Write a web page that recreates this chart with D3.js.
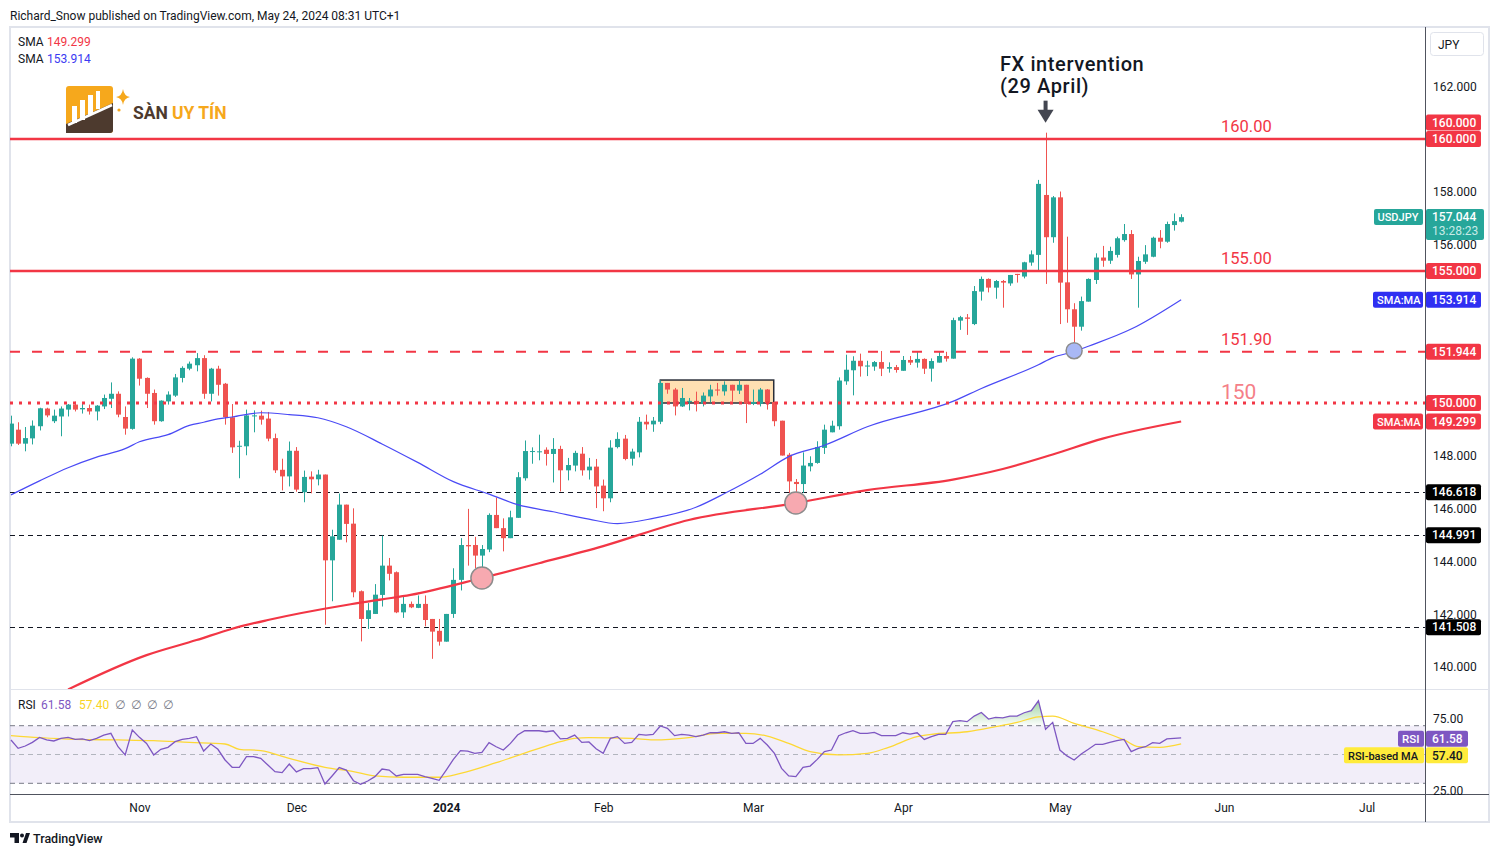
<!DOCTYPE html>
<html><head><meta charset="utf-8">
<script src="https://cdn.jsdelivr.net/npm/d3@7"></script>
<style>html,body{margin:0;padding:0;background:#fff;}svg{display:block;font-family:Roboto,"Noto Sans","DejaVu Sans",sans-serif;}</style>
</head><body><svg id="c" width="1499" height="857"></svg>
<script>
// ---- DATA (daily USD/JPY candles, Oct 6 2023 -> May 24 2024) ----
const open=[
148.46,148.99,148.46,148.66,149.12,149.79,149.31,149.49,149.75,149.94,
149.76,149.81,149.68,149.87,150.16,150.35,149.47,149.02,151.68,150.95,
150.38,149.31,150.06,150.28,150.95,151.30,151.43,151.70,150.35,151.30,
150.73,149.46,148.36,148.36,149.50,149.52,149.41,148.67,147.47,147.22,
148.19,146.62,147.21,147.11,147.29,144.04,144.82,146.15,145.43,142.87,
141.82,142.01,142.73,143.84,143.59,142.07,142.39,142.24,142.39,141.82,
141.37,140.96,142.01,143.30,144.62,144.62,144.22,144.45,145.76,145.26,
144.88,145.65,147.15,148.15,148.15,148.23,148.07,148.26,147.45,147.63,
148.08,147.45,147.59,146.87,146.39,148.33,148.65,147.89,148.13,149.29,
149.19,149.29,150.76,150.51,149.87,150.04,150.08,149.97,150.25,150.51,
150.44,150.69,150.47,150.69,149.97,149.97,150.51,150.04,149.33,148.04,
147.01,146.93,147.60,147.73,148.30,148.89,149.12,150.82,151.24,151.60,
151.38,151.38,151.55,151.30,151.36,151.22,151.63,151.53,151.67,151.30,
151.53,151.78,151.68,153.12,153.24,152.99,154.22,154.70,154.37,154.62,
154.53,154.89,154.79,155.32,155.61,157.88,156.28,157.79,154.57,153.55,
152.89,153.84,154.66,155.51,155.39,155.61,156.17,156.40,154.87,155.35,
155.54,156.26,156.11,156.74,156.87];
const high=[
149.52,149.27,149.09,149.34,149.82,149.82,149.75,149.87,149.96,150.05,
149.97,149.94,149.92,150.32,150.78,150.44,149.87,151.73,151.70,150.97,
150.51,150.10,150.44,151.10,151.39,151.57,151.89,151.81,151.33,151.41,
150.76,149.96,148.57,149.75,149.72,149.71,149.66,148.84,147.89,148.54,
148.33,147.44,147.41,147.47,147.29,145.20,146.57,146.15,146.01,142.90,
142.42,143.14,144.98,144.13,143.62,142.71,142.48,142.71,142.71,141.82,
141.82,142.01,143.74,144.88,145.99,144.93,144.62,145.82,146.42,145.63,
145.92,147.38,148.58,148.32,148.80,148.32,148.67,148.38,147.92,148.19,
148.33,147.92,147.88,147.10,148.59,148.89,148.79,148.27,149.47,149.56,
149.47,150.86,150.76,150.57,150.57,150.19,150.43,150.40,150.69,150.76,
150.82,150.69,150.86,150.69,150.51,150.57,150.53,150.06,149.33,148.11,
147.12,148.13,147.98,148.55,149.18,149.33,150.97,151.83,151.77,151.87,
151.60,151.59,151.97,151.54,151.44,151.78,151.78,151.94,151.69,151.69,
151.94,151.94,153.23,153.30,153.37,154.43,154.79,154.72,154.66,154.66,
154.85,154.89,155.35,155.78,158.45,160.24,157.84,158.01,156.30,153.78,
154.03,154.72,155.67,155.95,155.92,156.30,156.78,156.55,155.54,155.98,
156.30,156.55,156.87,157.18,157.15];
const low=[
148.36,148.41,148.17,148.43,148.96,149.46,149.24,148.74,149.49,149.68,
149.60,149.56,149.34,149.77,149.81,149.46,148.80,148.99,150.66,149.81,
149.18,149.29,149.94,150.23,150.78,151.24,151.20,150.16,150.06,150.28,
149.18,148.11,147.15,148.02,148.89,149.18,148.55,147.35,146.69,146.84,
146.64,146.24,146.58,146.88,141.60,142.49,144.82,144.72,142.64,140.97,
141.44,142.01,142.29,143.28,142.04,141.86,142.23,142.23,141.54,140.31,
140.81,140.96,141.86,142.90,143.84,143.74,143.46,144.35,145.26,144.38,
144.88,145.65,147.06,147.70,147.83,147.63,146.99,146.65,147.07,147.41,
147.25,147.10,146.02,145.90,146.24,148.28,147.83,147.63,147.94,148.99,
148.91,149.20,150.35,149.53,149.85,149.72,149.68,149.87,150.03,150.28,
150.28,150.06,150.34,149.24,149.92,149.87,149.75,149.12,148.01,146.59,
146.53,146.59,147.41,147.70,148.07,148.89,148.99,150.69,150.29,151.00,
151.02,151.22,151.02,151.15,151.15,151.22,151.44,151.34,151.10,150.81,
151.53,151.57,151.68,152.77,152.58,152.95,153.88,154.19,153.95,153.61,
154.44,154.56,154.72,155.20,154.97,154.51,156.07,152.99,153.04,151.92,
152.74,153.84,154.51,155.16,155.27,155.51,156.11,154.70,153.61,155.27,
155.52,155.86,156.07,156.53,156.84];
const close=[
149.22,148.46,148.67,149.14,149.80,149.53,149.52,149.79,149.94,149.75,
149.81,149.68,149.90,150.19,150.35,149.56,149.03,151.68,150.92,150.35,
149.31,150.09,150.32,150.97,151.33,151.49,151.70,150.35,151.30,150.69,
149.46,148.32,148.38,149.53,149.53,149.37,148.65,147.45,147.22,148.19,
146.72,147.20,147.11,147.29,144.04,144.95,146.15,145.42,142.83,141.82,
142.15,142.74,143.84,143.53,142.07,142.39,142.26,142.39,141.78,141.34,
140.96,142.01,143.30,144.62,144.57,144.22,144.47,145.76,145.26,144.88,
145.67,147.19,148.18,148.18,148.17,148.07,148.26,147.45,147.65,148.11,
147.45,147.59,146.84,146.39,148.31,148.64,147.88,148.16,149.29,149.19,
149.33,150.76,150.51,149.87,150.19,150.08,149.96,150.28,150.51,150.47,
150.69,150.47,150.69,149.97,150.04,150.51,150.00,149.31,148.01,147.03,
146.93,147.63,147.73,148.33,148.99,149.14,150.85,151.26,151.60,151.39,
151.42,151.55,151.30,151.36,151.25,151.63,151.53,151.67,151.30,151.59,
151.78,151.68,153.14,153.25,153.19,154.24,154.70,154.37,154.62,154.56,
154.85,154.85,155.33,155.63,158.30,156.28,157.79,154.56,153.55,152.89,
153.86,154.70,155.51,155.39,155.76,156.24,156.40,154.87,155.38,155.63,
156.26,156.11,156.78,156.89,157.04];

// RSI(14) per candle
const rsi=[
60.1,54.3,55.9,58.4,61.9,60.1,59.4,61.2,61.9,60.5,
60.8,59.6,61.2,63.5,64.7,55.4,49.7,67.0,61.9,57.7,
49.7,53.6,55.0,58.9,60.5,61.2,62.4,52.4,57.3,53.6,
46.2,41.1,41.1,48.5,48.5,47.3,42.7,38.1,37.4,43.4,
37.9,40.2,40.2,40.9,29.5,35.1,40.9,39.2,31.8,29.3,
31.6,34.6,39.9,39.2,35.1,36.2,36.2,36.2,34.6,33.5,
32.1,39.2,46.6,52.7,52.4,50.8,51.5,58.2,55.4,53.1,
57.7,63.5,66.5,66.5,66.5,65.8,66.5,60.8,61.2,63.5,
58.4,58.7,54.0,50.8,61.2,62.4,57.7,58.4,64.0,63.5,
64.0,69.8,68.2,63.1,64.0,63.5,62.4,63.5,65.1,65.1,
65.8,64.7,65.1,57.7,57.7,61.2,56.6,50.8,40.4,35.1,
34.6,41.1,42.0,46.6,52.0,53.1,63.1,65.1,66.5,64.7,
64.7,65.4,63.1,63.1,63.1,65.1,64.2,65.1,60.5,62.4,
64.0,64.0,72.8,73.5,72.8,76.7,79.2,74.6,75.8,75.5,
76.7,76.7,79.0,80.4,87.3,67.5,72.3,53.1,49.0,46.2,
50.3,53.6,57.1,57.1,58.4,59.6,60.5,52.0,54.3,55.4,
58.2,57.7,60.8,61.2,61.58];

// RSI-based MA read at candle indices
const rsiMaIdx=[0,4,9,15,20,25,30,32,35,39,44,48,51,55,60,63,68,74,77,79,81,87,90,95,99,103,106,109,112,116,120,123,127,129,134,138,141,144,146,149,153,156,158,161,164];
const rsiMaVal=[63.1,61.7,60.5,60.1,59.6,58.4,57.3,53.6,52.7,47.3,41.1,38.1,35.1,34.2,34.2,36.9,44.3,54.3,58.9,61.2,61.7,61.2,60.1,61.7,64.7,64.7,62.8,57.7,52.0,49.7,50.8,55.0,62.4,64.0,65.8,69.3,72.3,76.2,76.7,71.6,65.8,60.1,55.4,55.0,57.4];

// SMA lines read at candle indices
const sma50Idx=[0,4,8,12,16,18,22,25,27,29,31,35,39,43,47,52,57,62,67,71,76,81,85,90,96,100,105,109,114,120,132,136,144,146,149,151,157,164];
const sma50Val=[146.52,147.05,147.55,147.95,148.27,148.53,148.80,149.15,149.27,149.40,149.47,149.63,149.56,149.44,149.10,148.45,147.75,147.02,146.55,146.15,145.88,145.60,145.43,145.63,146.05,146.57,147.30,147.97,148.40,149.10,150.06,150.55,151.45,151.72,151.95,152.15,152.80,153.914];
const sma200Idx=[8,19,26,31,36,47,52,56,66,74,83,95,110,120,132,139,146,153,164];
const sma200Val=[139.15,140.45,141.02,141.45,141.78,142.35,142.56,142.73,143.37,143.93,144.58,145.57,146.21,146.70,147.10,147.50,148.05,148.65,149.299];

const monthTickIdx=[18,40,61,83,104,125,147,170,190];
const monthTickLabels=["Nov","Dec","2024","Feb","Mar","Apr","May","Jun","Jul"];
const priceTicks=[140,142,144,146,148,156,158,162];
const rsiTicks=[25,75];
const redLevels=[160,155,151.944,150];
const redLevelText=["160.00","155.00","151.90","150"];
const blackLevels=[146.618,144.991,141.508];
const lastPrice=157.044, lastSma50=153.914, lastSma200=149.299, lastRsi=61.58, lastRsiMa=57.40;
const markIdx=[66,110,149];
const markVal=[143.37,146.21,151.98];
const boxIdx=[91,106.9], boxVal=[150.0,150.87];
const fxIdx=145, fxVal=160.24;

// ---- DRAW ----
const RED="#f23645", GREEN="#26a69a", CRED="#ef5350", BLUE="#3b3bf2", TXT="#131722";
const svg=d3.select("#c");
svg.append("rect").attr("width",1499).attr("height",857).attr("fill","#fff");
const PL=10, PR=1425, MT=28, MB=689, RT=690, RB=794;
const x=d3.scaleLinear().domain([0,164]).range([11,11+164*7.135]);
const y=d3.scaleLinear().domain([140,160]).range([667,139]);
const yr=d3.scaleLinear().domain([30,70]).range([783.3,725.7]);

const defs=svg.append("defs");
defs.append("clipPath").attr("id","cm").append("rect").attr("x",PL).attr("y",MT).attr("width",PR-PL).attr("height",MB-MT);
defs.append("clipPath").attr("id","cr").append("rect").attr("x",PL).attr("y",RT).attr("width",PR-PL).attr("height",RB-RT);
const gU=defs.append("linearGradient").attr("id","gu").attr("gradientUnits","userSpaceOnUse").attr("x1",0).attr("x2",0).attr("y1",yr(88)).attr("y2",yr(70));
gU.append("stop").attr("offset",0).attr("stop-color","rgba(76,175,80,0.55)");
gU.append("stop").attr("offset",1).attr("stop-color","rgba(76,175,80,0.02)");
const gD=defs.append("linearGradient").attr("id","gd").attr("gradientUnits","userSpaceOnUse").attr("x1",0).attr("x2",0).attr("y1",yr(30)).attr("y2",yr(20));
gD.append("stop").attr("offset",0).attr("stop-color","rgba(255,82,82,0.05)");
gD.append("stop").attr("offset",1).attr("stop-color","rgba(255,82,82,0.5)");

// header
svg.append("text").attr("x",10).attr("y",19.5).attr("font-size",12).attr("fill",TXT)
  .text("Richard_Snow published on TradingView.com, May 24, 2024 08:31 UTC+1");

// frame
svg.append("rect").attr("x",10).attr("y",27).attr("width",1479).attr("height",795).attr("fill","none").attr("stroke","#e0e3eb").attr("stroke-width",2);
svg.append("line").attr("x1",10).attr("x2",1489).attr("y1",689.5).attr("y2",689.5).attr("stroke","#e0e3eb");
svg.append("line").attr("x1",10).attr("x2",1489).attr("y1",794.5).attr("y2",794.5).attr("stroke","#50535e");
svg.append("line").attr("x1",1425.5).attr("x2",1425.5).attr("y1",27).attr("y2",822).attr("stroke","#50535e");

const main=svg.append("g").attr("clip-path","url(#cm)");

// rectangle drawing
main.append("rect").attr("x",x(boxIdx[0])).attr("y",y(boxVal[1])).attr("width",x(boxIdx[1])-x(boxIdx[0]))
  .attr("height",y(boxVal[0])-y(boxVal[1])).attr("fill","#ffe0b2").attr("stroke","#2a2e39").attr("stroke-width",1.5);

// black dashed levels
main.selectAll("line.bl").data(blackLevels).join("line").attr("class","bl")
  .attr("x1",PL).attr("x2",PR).attr("y1",d=>Math.round(y(d))+0.5).attr("y2",d=>Math.round(y(d))+0.5)
  .attr("stroke",TXT).attr("stroke-width",1).attr("stroke-dasharray","5,4");

// candles
const cd=d3.range(open.length).map(i=>({i,o:open[i],h:high[i],l:low[i],c:close[i]}));
const cg=main.append("g");
cg.selectAll("line").data(cd).join("line")
  .attr("x1",d=>Math.round(x(d.i))+0.5).attr("x2",d=>Math.round(x(d.i))+0.5)
  .attr("y1",d=>y(d.h)).attr("y2",d=>y(d.l))
  .attr("stroke",d=>d.c>=d.o?GREEN:CRED).attr("stroke-width",1);
cg.selectAll("rect").data(cd).join("rect")
  .attr("x",d=>Math.round(x(d.i))-2).attr("width",5)
  .attr("y",d=>y(Math.max(d.o,d.c))).attr("height",d=>Math.max(1,Math.abs(y(d.o)-y(d.c))))
  .attr("fill",d=>d.c>=d.o?GREEN:CRED);

// SMA lines
const ln=d3.line().x(d=>x(d[0])).y(d=>y(d[1])).curve(d3.curveMonotoneX);
main.append("path").attr("d",ln(d3.zip(sma50Idx,sma50Val))).attr("fill","none").attr("stroke","#4a4af5").attr("stroke-width",1.2);
main.append("path").attr("d",ln(d3.zip(sma200Idx,sma200Val))).attr("fill","none").attr("stroke",RED).attr("stroke-width",2.2);

// red levels
const dashes=[null,null,"10,12","3,6"];
const widths=[2.5,2.5,2,3];
main.selectAll("line.rl").data(redLevels).join("line").attr("class","rl")
  .attr("x1",PL).attr("x2",PR).attr("y1",d=>y(d)).attr("y2",d=>y(d))
  .attr("stroke",RED).attr("stroke-width",(d,i)=>widths[i]).attr("stroke-dasharray",(d,i)=>dashes[i]);
main.selectAll("text.rt").data(redLevels).join("text").attr("class","rt")
  .attr("x",1221).attr("y",(d,i)=>y(d)-(i===3?4:7))
  .attr("font-size",(d,i)=>i===3?21:16.5).attr("fill",(d,i)=>i===3?"#f57f88":RED)
  .text((d,i)=>redLevelText[i]);

// circles
const mc=["#f7a9b0","#f7a9b0","#a9b8f5"], mr=[11,11,8];
main.selectAll("circle.mk").data(markIdx).join("circle").attr("class","mk")
  .attr("cx",d=>x(d)).attr("cy",(d,i)=>y(markVal[i])).attr("r",(d,i)=>mr[i])
  .attr("fill",(d,i)=>mc[i]).attr("stroke","#8c8c8c").attr("stroke-width",1.5);

// FX annotation
const ax=x(fxIdx), ay=y(fxVal);
svg.append("rect").attr("x",ax-2).attr("y",ay-32).attr("width",4).attr("height",14).attr("fill","#434651");
svg.append("path").attr("d",`M${ax-8},${ay-23}L${ax+8},${ay-23}L${ax},${ay-10}Z`).attr("fill","#434651");
svg.append("text").attr("x",1000).attr("y",70.5).attr("font-size",20).attr("letter-spacing",0.6).attr("font-weight",500).attr("fill",TXT).text("FX intervention");
svg.append("text").attr("x",1000).attr("y",92.5).attr("font-size",20).attr("letter-spacing",0.6).attr("font-weight",500).attr("fill",TXT).text("(29 April)");

// legend
const lg=svg.append("g").attr("font-size",12);
lg.append("text").attr("x",18).attr("y",46).attr("fill",TXT).text("SMA");
lg.append("text").attr("x",47).attr("y",46).attr("fill",RED).text(lastSma200.toFixed(3));
lg.append("text").attr("x",18).attr("y",63).attr("fill",TXT).text("SMA");
lg.append("text").attr("x",47).attr("y",63).attr("fill",BLUE).text(lastSma50.toFixed(3));

// logo
const lo=svg.append("g");
lo.append("rect").attr("x",66).attr("y",86).attr("width",47).attr("height",47).attr("rx",3).attr("fill","#f6a81c");
lo.append("path").attr("d","M66,133 L66,124 L113,103 L113,130 Q113,133 110,133 Z").attr("fill","#4d3a2e");
[[72,106,5,17],[80,100,5,20],[88,95,5,20],[96,91,4,18]].forEach(b=>lo.append("rect").attr("x",b[0]).attr("y",b[1]).attr("width",b[2]).attr("height",b[3]).attr("fill","#fff"));
lo.append("path").attr("d","M68,125 L112,105").attr("stroke","#fff").attr("stroke-width",2.5);
lo.append("path").attr("d","M123,89 Q124,96 130,97 Q124,98 123,105 Q122,98 116,97 Q122,96 123,89Z").attr("fill","#f6a81c");
lo.append("circle").attr("cx",119).attr("cy",110).attr("r",1.6).attr("fill","#f6a81c");
lo.append("text").attr("x",133).attr("y",119).attr("font-size",17.5).attr("font-weight","bold").attr("fill","#4d3a2e").text("SÀN");
lo.append("text").attr("x",172).attr("y",119).attr("font-size",17.5).attr("font-weight","bold").attr("fill","#f6a81c").text("UY TÍN");

// ---- RSI pane ----
const rp=svg.append("g").attr("clip-path","url(#cr)");
rp.append("rect").attr("x",PL).attr("width",PR-PL).attr("y",yr(70)).attr("height",yr(30)-yr(70)).attr("fill","rgba(126,87,194,0.1)");
[70,30].forEach(v=>rp.append("line").attr("x1",PL).attr("x2",PR).attr("y1",yr(v)).attr("y2",yr(v)).attr("stroke","#787b86").attr("stroke-dasharray","5,4"));
rp.append("line").attr("x1",PL).attr("x2",PR).attr("y1",yr(50)).attr("y2",yr(50)).attr("stroke","#b2b5be").attr("stroke-dasharray","5,4");
rp.append("path").attr("d",d3.area().x((d,i)=>x(i)).y0(yr(70)).y1(d=>yr(Math.max(d,70)))(rsi)).attr("fill","url(#gu)");
rp.append("path").attr("d",d3.area().x((d,i)=>x(i)).y0(yr(30)).y1(d=>yr(Math.min(d,30)))(rsi)).attr("fill","url(#gd)");
rp.append("path").attr("d",d3.line().x(d=>x(d[0])).y(d=>yr(d[1])).curve(d3.curveMonotoneX)(d3.zip(rsiMaIdx,rsiMaVal)))
  .attr("fill","none").attr("stroke","#fdd835").attr("stroke-width",1.3);
rp.append("path").attr("d",d3.line().x((d,i)=>x(i)).y(d=>yr(d))(rsi)).attr("fill","none").attr("stroke","#7e57c2").attr("stroke-width",1.3);

const rl=svg.append("g").attr("font-size",12);
rl.append("text").attr("x",18).attr("y",709).attr("fill",TXT).text("RSI");
rl.append("text").attr("x",41).attr("y",709).attr("fill","#7e57c2").text(lastRsi.toFixed(2));
rl.append("text").attr("x",79).attr("y",709).attr("fill","#f9d423").text(lastRsiMa.toFixed(2));
[115,131,147,163].forEach(px=>rl.append("text").attr("x",px).attr("y",709).attr("fill","#787b86").text("∅"));

// ---- axes ----
const pa=svg.append("g").attr("transform","translate(1425,0)")
  .call(d3.axisRight(y).tickValues(priceTicks).tickFormat(d3.format(".3f")).tickSize(0).tickPadding(8));
pa.select(".domain").remove();
pa.selectAll("text").attr("font-size",12).attr("fill",TXT).attr("font-family","Roboto,sans-serif");
const ra=svg.append("g").attr("transform","translate(1425,0)")
  .call(d3.axisRight(yr).tickValues(rsiTicks).tickFormat(d3.format(".2f")).tickSize(0).tickPadding(8));
ra.select(".domain").remove();
ra.selectAll("text").attr("font-size",12).attr("fill",TXT).attr("font-family","Roboto,sans-serif");
const ta=svg.append("g").attr("transform","translate(0,803)")
  .call(d3.axisBottom(x).tickValues(monthTickIdx).tickFormat((d,i)=>monthTickLabels[i]).tickSize(0).tickPadding(0));
ta.select(".domain").remove();
ta.selectAll("text").attr("font-size",12).attr("fill",TXT).attr("font-family","Roboto,sans-serif")
  .attr("font-weight",(d,i)=>monthTickLabels[i]==="2024"?"bold":null);

// JPY box
svg.append("rect").attr("x",1430.5).attr("y",32.5).attr("width",53).attr("height",23).attr("rx",3).attr("fill","#fff").attr("stroke","#e0e3eb");
svg.append("text").attr("x",1438).attr("y",48.5).attr("font-size",12).attr("fill",TXT).text("JPY");

// axis value boxes
function box(x0,cy,w,h,fill,txt,tc,tx,fs){
  svg.append("rect").attr("x",x0).attr("y",cy-h/2).attr("width",w).attr("height",h).attr("rx",2).attr("fill",fill);
  svg.append("text").attr("x",tx!==undefined?tx:x0+6).attr("y",cy+4.2).attr("font-size",fs||12).attr("font-weight",500).attr("fill",tc).text(txt);
}
box(1426,y(160)-16.5,55,16,RED,"160.000","#fff");
box(1426,y(160),55,16,RED,"160.000","#fff");
box(1426,y(155),55,16,RED,"155.000","#fff");
box(1426,y(151.944),55,16,RED,"151.944","#fff");
box(1426,y(150),55,16,RED,"150.000","#fff");
box(1426,y(lastSma200),55,16,RED,lastSma200.toFixed(3),"#fff");
box(1373,y(lastSma200),50,16,RED,"SMA:MA","#fff",1377,11);
box(1426,y(lastSma50),55,16,"#2f2ff2",lastSma50.toFixed(3),"#fff");
box(1373,y(lastSma50),50,16,"#2f2ff2","SMA:MA","#fff",1377,11);
blackLevels.forEach(v=>box(1426,y(v),55,16,"#000",v.toFixed(3),"#fff"));
// last price
svg.append("rect").attr("x",1426).attr("y",y(lastPrice)-8).attr("width",58).attr("height",31).attr("rx",2).attr("fill",GREEN);
svg.append("text").attr("x",1432).attr("y",y(lastPrice)+4.2).attr("font-size",12).attr("font-weight",500).attr("fill","#fff").text(lastPrice.toFixed(3));
svg.append("text").attr("x",1432).attr("y",y(lastPrice)+18).attr("font-size",12).attr("fill","#c8ebe7").text("13:28:23");
box(1374,y(lastPrice),49,16,GREEN,"USDJPY","#fff",1377.5,11);
// rsi boxes
box(1426,yr(lastRsi)+1,42,16,"#7e57c2",lastRsi.toFixed(2),"#fff",1432);
box(1398,yr(lastRsi)+1,26,16,"#7e57c2","RSI","#fff",1402,11.5);
box(1426,yr(lastRsi)+17.5,42,16,"#ffeb3b",lastRsiMa.toFixed(2),TXT,1432);
box(1344,yr(lastRsi)+17.5,80,16,"#ffeb3b","RSI-based MA",TXT,1348,11);

// TradingView footer
const tv=svg.append("g").attr("fill",TXT);
tv.append("path").attr("d","M10,833h9v10h-4.5v-5.5h-4.5z");
tv.append("circle").attr("cx",22).attr("cy",835.5).attr("r",2);
tv.append("path").attr("d","M22.5,843 L26,833 L30,833 L26.5,843Z");
tv.append("text").attr("x",33).attr("y",843).attr("font-size",12.5).attr("font-weight",500).text("TradingView");
</script></body></html>
